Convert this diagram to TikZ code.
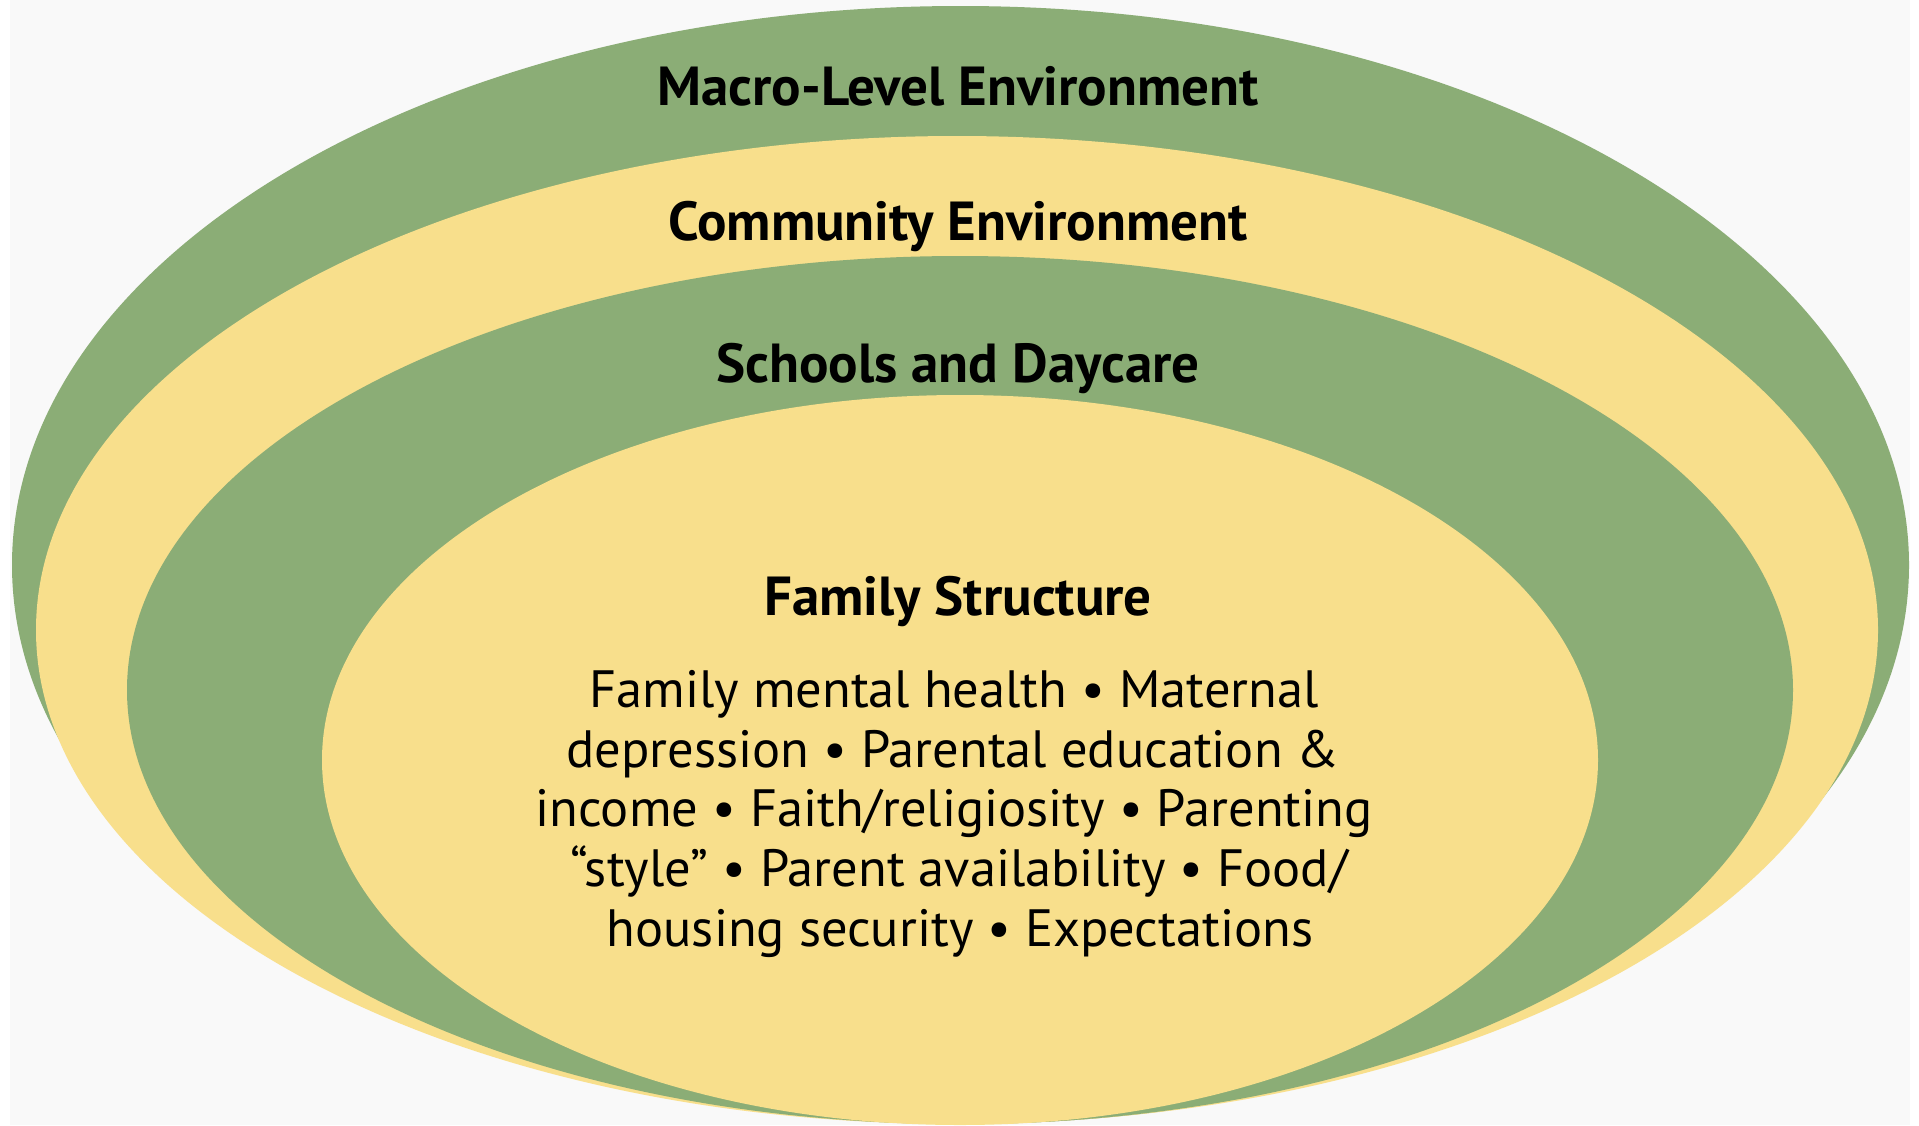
\documentclass[tikz,border=0pt]{standalone}
\usepackage{fontspec}
\setmainfont{PT Sans}
\definecolor{bggray}{HTML}{F9F9F9}
\definecolor{ringgreen}{HTML}{8BAD76}
\definecolor{ringyellow}{HTML}{F8DF8C}
\tikzset{
  ringG/.style={fill=ringgreen},
  ringY/.style={fill=ringyellow},
  title/.style={anchor=base, inner sep=0pt, font=\fontsize{55}{66}\selectfont\bfseries, text=black},
  bodyline/.style={anchor=base, inner sep=0pt, font=\fontsize{52.5}{63}\selectfont, text=black}
}
\begin{document}
\begin{tikzpicture}[x=1pt,y=-1pt]
\useasboundingbox (0,0) rectangle (1919,1125);
\fill[white] (0,0) rectangle (1919,1125);
\fill[bggray] (10,0) rectangle (1910,1125);
% rings
\fill[ringG] (960.5,565) ellipse [x radius=948.5pt, y radius=559pt];
\fill[ringY] (957,630) ellipse [x radius=921pt, y radius=494pt];
\fill[ringG] (960,690) ellipse [x radius=833pt, y radius=434pt];
\fill[ringY] (960,760) ellipse [x radius=638pt, y radius=365pt];
% titles
\node[title] (macro) at (958,105) {Macro-Level Environment};
\node[title] (community) at (958,240) {Community Environment};
\node[title] (schools) at (958,382) {Schools and Daycare};
\node[title] (family) at (958,615) {Family Structure};
% body
\node[bodyline] (l1) at (954,707) {Family mental health • Maternal};
\node[bodyline] (l2) at (953,767) {depression • Parental education \&};
\node[bodyline] (l3) at (954,826) {income • Faith/religiosity • Parenting};
\node[bodyline] (l4) at (959,886) {“style” • Parent availability • Food/};
\node[bodyline] (l5) at (960,946) {housing security • Expectations};
\end{tikzpicture}
\end{document}
